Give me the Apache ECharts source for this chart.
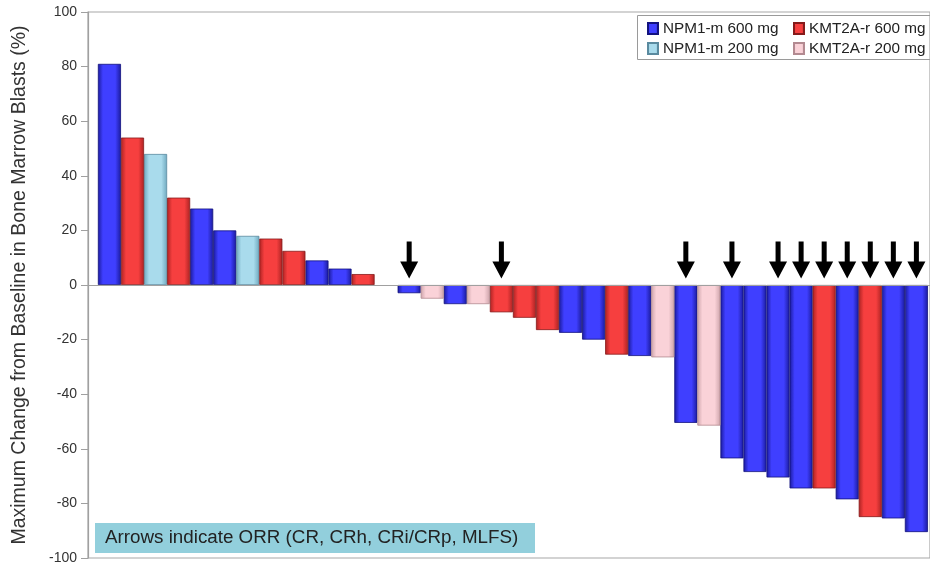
<!DOCTYPE html>
<html>
<head>
<meta charset="utf-8">
<style>
  html, body { margin: 0; padding: 0; background: #fff; }
  #chart { width: 930px; height: 569px; }
</style>
<script src="https://cdn.jsdelivr.net/npm/echarts@6/dist/echarts.min.js"></script>
</head>
<body>
<div id="chart"></div>
<script>
// patient number along the waterfall (1..36)
var patients = [1, 2, 3, 4, 5, 6, 7, 8, 9, 10, 11, 12, 13, 14, 15, 16, 17, 18,
    19, 20, 21, 22, 23, 24, 25, 26, 27, 28, 29, 30, 31, 32, 33, 34, 35, 36];

// maximum change in bone marrow blasts (%)
var changes = [81, 54, 48, 32, 28, 20, 18, 17, 12.5, 9, 6, 4, 0, -3, -5, -7, -7, -10,
    -12, -16.5, -17.5, -20, -25.5, -26, -26.5, -50.5, -51.5, -63.5, -68.5, -70.5, -74.5, -74.5,
    -78.5, -85, -85.5, -90.5];

// cohort of each patient
var cohorts = ['N600', 'K600', 'N200', 'K600', 'N600', 'N600', 'N200', 'K600', 'K600', 'N600',
    'N600', 'K600', '', 'N600', 'K200', 'N600', 'K200', 'K600', 'K600', 'K600', 'N600', 'N600',
    'K600', 'N600', 'K200', 'N600', 'K200', 'N600', 'N600', 'N600', 'N600', 'K600', 'N600',
    'K600', 'N600', 'N600'];

// patients with response (arrow)
var responders = [14, 18, 26, 28, 30, 31, 32, 33, 34, 35, 36];

var cohortKeys = ['N600', 'N200', 'K600', 'K200'];
var cohortNames = ['NPM1-m 600 mg', 'NPM1-m 200 mg', 'KMT2A-r 600 mg', 'KMT2A-r 200 mg'];

var arrowLevel = 9.2;

// bar colours: edge, centre, border
var palette = {
    N600: ['#1a1a9c', '#3f3fff', '#12127e'],
    N200: ['#6fa8be', '#a9dbec', '#5a8a9f'],
    K600: ['#ac2222', '#f63f3f', '#861a1a'],
    K200: ['#cda4ab', '#fad2d8', '#b38a91']
};

function barFill(key) {
    var c = palette[key];
    return new echarts.graphic.LinearGradient(0, 0, 1, 0, [
        { offset: 0, color: c[0] },
        { offset: 0.22, color: c[1] },
        { offset: 0.75, color: c[1] },
        { offset: 1, color: c[0] }
    ]);
}

var chart = echarts.init(document.getElementById('chart'));

var series = [];
for (var k = 0; k < cohortKeys.length; k++) {
    var key = cohortKeys[k];
    var pts = [];
    for (var i = 0; i < patients.length; i++) {
        if (cohorts[i] === key) {
            pts.push([patients[i], changes[i]]);
        }
    }
    series.push({
        name: cohortNames[k],
        type: 'bar',
        data: pts,
        barWidth: 23.1,
        barGap: '-100%',
        itemStyle: {
            color: barFill(key),
            borderColor: palette[key][2],
            borderWidth: 0.8
        },
        emphasis: { disabled: true }
    });
}

// arrows for responders
var arrowPts = [];
for (var j = 0; j < responders.length; j++) {
    arrowPts.push([responders[j], arrowLevel]);
}
series.push({
    name: 'ORR',
    type: 'scatter',
    data: arrowPts,
    symbol: 'path://M6.5,0 L11.5,0 L11.5,20 L18,20 L9,37 L0,20 L6.5,20 Z',
    symbolSize: [18, 37],
    itemStyle: { color: '#000', opacity: 1 },
    z: 5,
    silent: true
});

// zero line
series[0].markLine = {
    silent: true,
    symbol: ['none', 'none'],
    label: { show: false },
    lineStyle: { color: '#a0a0a0', width: 1.2, type: 'solid' },
    data: [{ yAxis: 0 }]
};

var legendText = { fontFamily: 'Liberation Sans', fontSize: 15.3, color: '#222' };

var option = {
    animation: false,
    backgroundColor: '#fff',
    grid: {
        left: 88,
        top: 12,
        width: 844,
        height: 546,
        show: true,
        borderColor: '#a8a8a8',
        borderWidth: 1.2,
        backgroundColor: 'transparent'
    },
    xAxis: {
        type: 'value',
        min: 0.07,
        max: 36.59,
        axisLine: { show: false },
        axisTick: { show: false },
        axisLabel: { show: false },
        splitLine: { show: false }
    },
    yAxis: {
        type: 'value',
        min: -100,
        max: 100,
        interval: 20,
        name: 'Maximum Change from Baseline in Bone Marrow Blasts (%)',
        nameLocation: 'middle',
        nameGap: 58,
        nameTextStyle: { fontFamily: 'Liberation Sans', fontSize: 19.5, color: '#333' },
        axisLine: { show: true, lineStyle: { color: '#a0a0a0', width: 1.2 } },
        axisTick: { show: true, inside: false, length: 7, lineStyle: { color: '#a0a0a0' } },
        axisLabel: { fontFamily: 'Liberation Sans', fontSize: 14, color: '#333', margin: 11 },
        splitLine: { show: false }
    },
    legend: [{
        data: [cohortNames[0], cohortNames[1]],
        orient: 'vertical',
        left: 647,
        top: 21,
        icon: 'rect',
        itemWidth: 10,
        itemHeight: 11,
        itemGap: 5,
        padding: 0,
        textStyle: legendText
    }, {
        data: [cohortNames[2], cohortNames[3]],
        orient: 'vertical',
        left: 793,
        top: 21,
        icon: 'rect',
        itemWidth: 10,
        itemHeight: 11,
        itemGap: 5,
        padding: 0,
        textStyle: legendText
    }],
    graphic: [{
        // legend frame
        type: 'rect',
        left: 637,
        top: 15,
        shape: { width: 300, height: 44 },
        style: { fill: 'rgba(255,255,255,0)', stroke: '#9a9a9a', lineWidth: 1 },
        z: 10
    }, {
        type: 'group',
        left: 95,
        top: 523,
        children: [{
            type: 'rect',
            shape: { width: 440, height: 30 },
            style: { fill: '#92cfdc' }
        }, {
            type: 'text',
            left: 10,
            top: 5,
            style: {
                text: 'Arrows indicate ORR (CR, CRh, CRi/CRp, MLFS)',
                font: '18.8px "Liberation Sans"',
                fill: '#222'
            }
        }]
    }],
    series: series
};

chart.setOption(option);
</script>
</body>
</html>
